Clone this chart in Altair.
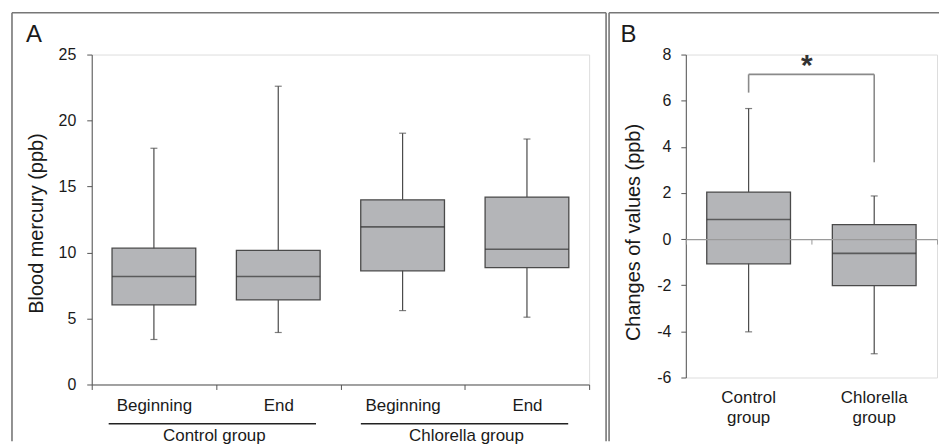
import altair as alt
import pandas as pd

FONT = "Liberation Sans"
BOX_FILL = "#b4b5b8"
DARK = "#4a4a4a"
AXIS = "#555555"
FRAME = "#777777"
TXT = "#1a1a1a"

# ---------------- Panel A data ----------------
cats_A = ["Control group|Beginning", "Control group|End",
          "Chlorella group|Beginning", "Chlorella group|End"]
lower_A = [3.41, 3.94, 5.60, 5.10]
q1_A = [6.04, 6.41, 8.61, 8.86]
med_A = [8.18, 8.18, 11.94, 10.25]
q3_A = [10.33, 10.17, 13.99, 14.20]
upper_A = [17.90, 22.60, 19.04, 18.60]
group_labels_A = ["Control group", "Chlorella group"]

# ---------------- Panel B data ----------------
cats_B = ["Control group", "Chlorella group"]
labels_B = ["Control\ngroup", "Chlorella\ngroup"]
lower_B = [-4.02, -4.97]
q1_B = [-1.07, -2.02]
med_B = [0.85, -0.62]
q3_B = [2.04, 0.63]
upper_B = [5.66, 1.87]
bracket_top = 7.14
bracket_left_end = 6.35
bracket_right_end = 3.33

dfA = pd.DataFrame({"cat": cats_A, "lower": lower_A, "q1": q1_A,
                    "med": med_A, "q3": q3_A, "upper": upper_A})
dfB = pd.DataFrame({"cat": cats_B, "label": labels_B, "lower": lower_B,
                    "q1": q1_B, "med": med_B, "q3": q3_B, "upper": upper_B})
one = pd.DataFrame({"a": [0]})

# ---------------- Panel A ----------------
WA, HA = 499, 331
xA = alt.X("cat:N", scale=alt.Scale(domain=cats_A, paddingInner=0, paddingOuter=0),
           axis=alt.Axis(title=None, tickBand="extent", labelExpr="split(datum.label, '|')[1]",
                         labelFontSize=17, labelPadding=8, tickSize=5, labelAngle=0,
                         domainColor=AXIS, tickColor=AXIS, labelColor=TXT, labelFont=FONT))
yA_axis = alt.Axis(title="Blood mercury (ppb)", values=[0, 5, 10, 15, 20, 25], grid=False,
                   tickSize=5, labelPadding=11, labelFontSize=16, labelColor=TXT, labelFont=FONT,
                   domainColor=AXIS, tickColor=AXIS, titleFontSize=20, titleFont=FONT,
                   titleFontWeight="normal", titleColor=TXT, titlePadding=12, titleY=169)
yA = alt.Y("lower:Q", scale=alt.Scale(domain=[0, 25], nice=False), axis=yA_axis)

baseA = alt.Chart(dfA)
whiskA = baseA.mark_rule(color=DARK, strokeWidth=1.2).encode(x=xA, y=yA, y2="upper:Q")
capLoA = baseA.mark_tick(color=DARK, size=7, thickness=1.2).encode(x=xA, y="lower:Q")
capHiA = baseA.mark_tick(color=DARK, size=7, thickness=1.2).encode(x=xA, y="upper:Q")
boxA = baseA.mark_bar(size=84, fill=BOX_FILL, stroke=DARK, strokeWidth=1.3).encode(
    x=xA, y="q1:Q", y2="q3:Q")
medA = baseA.mark_tick(color="#333333", size=84, thickness=1.6).encode(x=xA, y="med:Q")

o = alt.Chart(one)
frameA = [
    o.mark_rule(color=FRAME, strokeWidth=1.6).encode(x=alt.value(-80), y=alt.value(-42), y2=alt.value(388)),
    o.mark_rule(color=FRAME, strokeWidth=1.6).encode(x=alt.value(-80), x2=alt.value(516), y=alt.value(-42)),
    o.mark_rule(color=FRAME, strokeWidth=1.6).encode(x=alt.value(516), y=alt.value(-42), y2=alt.value(388)),
]
letterA = o.mark_text(text="A", font=FONT, fontSize=24, color=TXT, align="center",
                      baseline="alphabetic").encode(x=alt.value(-58), y=alt.value(-13))
gline1 = o.mark_rule(color="#222222", strokeWidth=1.5).encode(x=alt.value(17), x2=alt.value(225), y=alt.value(370.5))
gline2 = o.mark_rule(color="#222222", strokeWidth=1.5).encode(x=alt.value(270), x2=alt.value(478), y=alt.value(370.5))
glab1 = o.mark_text(text=group_labels_A[0], font=FONT, fontSize=17, color=TXT, align="center",
                    baseline="alphabetic").encode(x=alt.value(123), y=alt.value(388))
glab2 = o.mark_text(text=group_labels_A[1], font=FONT, fontSize=17, color=TXT, align="center",
                    baseline="alphabetic").encode(x=alt.value(376), y=alt.value(388))

panelA = alt.layer(whiskA, capLoA, capHiA, boxA, medA, *frameA, letterA,
                   gline1, gline2, glab1, glab2).properties(width=WA, height=HA)

# ---------------- Panel B ----------------
WB, HB = 252, 324
zero_offset = -(HB * 6 / 14)
xB = alt.X("cat:N", scale=alt.Scale(domain=cats_B, paddingInner=0, paddingOuter=0),
           axis=alt.Axis(title=None, tickBand="extent", labels=False, tickSize=5,
                         offset=zero_offset, domainColor="#9a9a9a", tickColor="#9a9a9a",
                         domainWidth=1.2, zindex=1))
yB_axis = alt.Axis(title="Changes of values (ppb)", values=[-6, -4, -2, 0, 2, 4, 6, 8], grid=False,
                   labelExpr="'' + datum.value",
                   tickSize=5, labelPadding=10, labelFontSize=16, labelColor=TXT, labelFont=FONT,
                   domainColor=AXIS, tickColor=AXIS, titleFontSize=20, titleFont=FONT,
                   titleFontWeight="normal", titleColor=TXT, titlePadding=13, titleY=178)
yB = alt.Y("lower:Q", scale=alt.Scale(domain=[-6, 8], nice=False), axis=yB_axis)

baseB = alt.Chart(dfB)
whiskB = baseB.mark_rule(color=DARK, strokeWidth=1.2).encode(x=xB, y=yB, y2="upper:Q")
capLoB = baseB.mark_tick(color=DARK, size=7, thickness=1.2).encode(x=xB, y="lower:Q")
capHiB = baseB.mark_tick(color=DARK, size=7, thickness=1.2).encode(x=xB, y="upper:Q")
boxB = baseB.mark_bar(size=84, fill=BOX_FILL, stroke=DARK, strokeWidth=1.3).encode(
    x=xB, y="q1:Q", y2="q3:Q")
medB = baseB.mark_tick(color="#333333", size=84, thickness=1.6).encode(x=xB, y="med:Q")
labB = baseB.mark_text(font=FONT, fontSize=17, color=TXT, align="center", baseline="alphabetic",
                       lineBreak="\n", lineHeight=20).encode(
    x=xB, y=alt.value(350), text="label:N")

brk = pd.DataFrame({"x1": [cats_B[0]], "x2": [cats_B[1]], "top": [bracket_top],
                    "l_end": [bracket_left_end], "r_end": [bracket_right_end]})
bb = alt.Chart(brk)
BR = "#8a8a8a"
brH = bb.mark_rule(color=BR, strokeWidth=1.6).encode(
    x=alt.X("x1:N", scale=alt.Scale(domain=cats_B)), x2="x2:N", y="top:Q")
brL = bb.mark_rule(color=BR, strokeWidth=1.6).encode(
    x=alt.X("x1:N", scale=alt.Scale(domain=cats_B)), y="top:Q", y2="l_end:Q")
brR = bb.mark_rule(color=BR, strokeWidth=1.6).encode(
    x=alt.X("x2:N", scale=alt.Scale(domain=cats_B)), y="top:Q", y2="r_end:Q")
star = bb.mark_text(text="*", font=FONT, fontSize=30, fontWeight="bold", color="#333333",
                    align="center", baseline="alphabetic", dy=1).encode(
    x=alt.value(121.5), y="top:Q")

o2 = alt.Chart(one)
frameB = [
    o2.mark_rule(color=FRAME, strokeWidth=1.6).encode(x=alt.value(-77), y=alt.value(-42), y2=alt.value(388)),
    o2.mark_rule(color=FRAME, strokeWidth=1.6).encode(x=alt.value(-77), x2=alt.value(254), y=alt.value(-42)),
]
letterB = o2.mark_text(text="B", font=FONT, fontSize=24, color=TXT, align="center",
                       baseline="alphabetic").encode(x=alt.value(-57.5), y=alt.value(-13))

panelB = alt.layer(whiskB, capLoB, capHiB, boxB, medB, labB, brH, brL, brR, star,
                   *frameB, letterB).properties(width=WB, height=HB)

chart = alt.hconcat(panelA, panelB, spacing=97, bounds="flush").properties(
    padding={"left": 2, "top": 2, "right": 0, "bottom": 0}
).configure_view(stroke=None).configure(font=FONT)

chart.save("out.html", embed_options={"renderer": "svg", "actions": False})
